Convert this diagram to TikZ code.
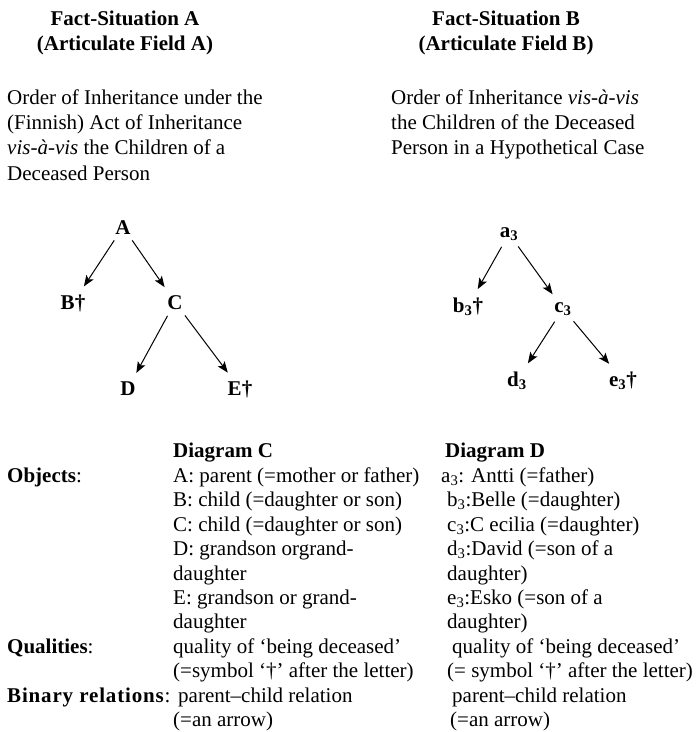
\documentclass[tikz,border=0pt]{standalone}
\usepackage{fontspec}
\setmainfont{Liberation Serif}
\usetikzlibrary{arrows.meta}

\tikzset{
  line/.style={anchor=base west, inner sep=0pt},
  heading/.style={anchor=base, inner sep=0pt, font=\bfseries},
  member/.style={anchor=base, inner sep=2pt, font=\bfseries},
  descent/.style={-{Stealth[length=11pt,width=8.5pt,inset=2.5pt]}, line width=1pt,
    shorten <=5pt, shorten >=7pt}
}

\begin{document}
\fontsize{21pt}{25pt}\selectfont
\begin{tikzpicture}[x=1pt, y=-1pt]
  \useasboundingbox (0,0) rectangle (698,732);

  % headings
  \node[heading] (headA) at (125,25) {Fact-Situation A};
  \node[heading] (fieldA) at (125,50) {(Articulate Field A)};
  \node[heading] (headB) at (506,25) {Fact-Situation B};
  \node[heading] (fieldB) at (506,50) {(Articulate Field B)};

  \node[line] (orderA1) at (7,104) {Order of Inheritance under the};
  \node[line] (orderA2) at (7,129) {(Finnish) Act of Inheritance};
  \node[line] (orderA3) at (7,154) {\textit{vis-à-vis} the Children of a};
  \node[line] (orderA4) at (7,180) {Deceased Person};

  \node[line] (orderB1) at (391,104) {Order of Inheritance \textit{vis-à-vis}};
  \node[line] (orderB2) at (391,129) {the Children of the Deceased};
  \node[line] (orderB3) at (391,154) {Person in a Hypothetical Case};

  % tree of fact-situation A
  \node[member] (A) at (123,234) {A};
  \node[member] (B) at (73,309) {B†};
  \node[member] (C) at (175,309) {C};
  \node[member] (D) at (128,395) {D};
  \node[member] (E) at (240,395) {E†};
  \draw[descent] (A) -- (B);
  \draw[descent] (A) -- (C);
  \draw[descent] (C) -- (D);
  \draw[descent] (C) -- (E);

  % tree of fact-situation B
  \node[member] (a3) at (509,237) {a\textsubscript{3}};
  \node[member] (b3) at (468,312) {b\textsubscript{3}†};
  \node[member] (c3) at (563,312) {c\textsubscript{3}};
  \node[member] (d3) at (517,386) {d\textsubscript{3}};
  \node[member] (e3) at (623,386) {e\textsubscript{3}†};
  \draw[descent] (a3) -- (b3);
  \draw[descent] (a3) -- (c3);
  \draw[descent] (c3) -- (d3);
  \draw[descent] (c3) -- (e3);

  % table
  \node[line, font=\bfseries] (diagC) at (173,457) {Diagram C};
  \node[line, font=\bfseries] (diagD) at (445,457) {Diagram D};

  \node[line] (objects) at (7,482) {\textbf{Objects}:};
  \node[line] (qualities) at (7,653) {\textbf{Qualities}:};
  \node[line] (relations) at (7,702) {\addfontfeature{LetterSpace=4}\textbf{Binary relations}:};

  \node[line] (c1) at (173,482) {A: parent (=mother or father)};
  \node[line] (c2) at (173,506) {B: child (=daughter or son)};
  \node[line] (c3) at (173,531) {C: child (=daughter or son)};
  \node[line] (c4) at (173,555) {D: grandson orgrand-};
  \node[line] (c5) at (173,580) {daughter};
  \node[line] (c6) at (173,604) {E: grandson or grand-};
  \node[line] (c7) at (173,628) {daughter};
  \node[line] (c8) at (173,653) {quality of ‘being deceased’};
  \node[line] (c9) at (173,677) {(=symbol ‘†’ after the letter)};
  \node[line] (c10) at (178,702) {parent–child relation};
  \node[line] (c11) at (173,726) {(=an arrow)};

  \node[line] (d1) at (441,482) {a\textsubscript{3}: Antti (=father)};
  \node[line] (d2) at (447,506) {b\textsubscript{3}:Belle (=daughter)};
  \node[line] (d3) at (447,531) {c\textsubscript{3}:C ecilia (=daughter)};
  \node[line] (d4) at (447,555) {d\textsubscript{3}:David (=son of a};
  \node[line] (d5) at (447,580) {daughter)};
  \node[line] (d6) at (447,604) {e\textsubscript{3}:Esko (=son of a};
  \node[line] (d7) at (447,628) {daughter)};
  \node[line] (d8) at (452,653) {quality of ‘being deceased’};
  \node[line] (d9) at (447,677) {(= symbol ‘†’ after the letter)};
  \node[line] (d10) at (452,702) {parent–child relation};
  \node[line] (d11) at (450,726) {(=an arrow)};
\end{tikzpicture}
\end{document}
